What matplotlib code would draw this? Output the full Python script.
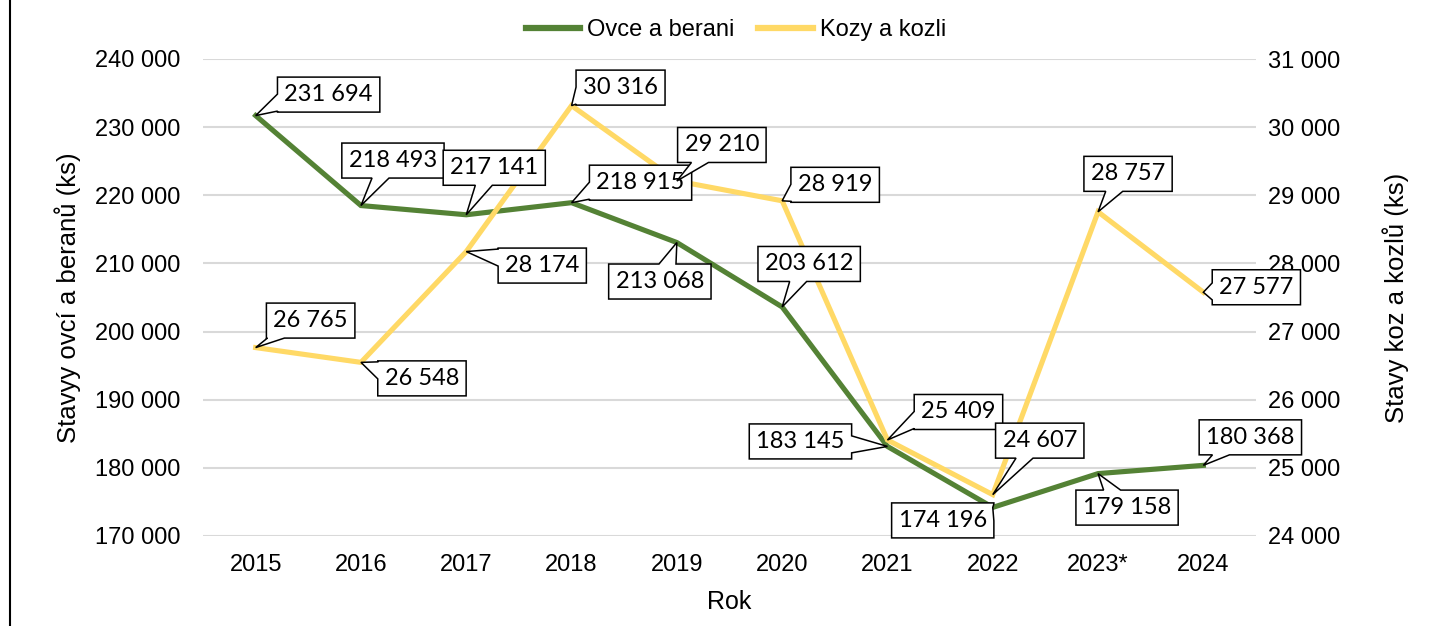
import matplotlib
matplotlib.use("Agg")
import numpy as np
import matplotlib.pyplot as plt
from matplotlib.ticker import FuncFormatter, MultipleLocator
from matplotlib.lines import Line2D
from matplotlib.patches import Polygon
from matplotlib.transforms import IdentityTransform

YEARS = ["2015", "2016", "2017", "2018", "2019", "2020", "2021", "2022", "2023*", "2024"]
SHEEP = [231694, 218493, 217141, 218915, 213068, 203612, 183145, 174196, 179158, 180368]
GOATS = [26765, 26548, 28174, 30316, 29210, 28919, 25409, 24607, 28757, 27577]

# callout box offsets from the data point, in pixels (x right, y up)
SHEEP_OFFSETS = [(73, 21), (32, 45), (28, 47), (69, 20), (-17, -39), (27, 43), (-87, 5), (-50, -13), (29, -34), (47, 28)]
GOAT_OFFSETS = [(55, 27), (61, -16), (76, -14), (49, 18), (45, 36), (53, 16), (71, 28), (47, 54), (30, 38), (53, 5)]

GREEN = "#548235"
YELLOW = "#FFD966"
GRID = "#D9D9D9"
TICK_FONT = "Liberation Sans"
LABEL_FONT = "Lato"


def fmt_space(v, _pos=None):
    return f"{int(round(v)):,}".replace(",", " ")


fig = plt.figure(figsize=(14.35, 6.26), dpi=100)
ax = fig.add_axes([203 / 1435, 1 - 536 / 626, (1256 - 203) / 1435, (536 - 59) / 626])
ax2 = ax.twinx()

x = list(range(len(YEARS)))
ax.plot(x, SHEEP, color=GREEN, lw=3.7, solid_joinstyle="miter", zorder=3)
ax2.plot(x, GOATS, color=YELLOW, lw=3.7, solid_joinstyle="miter", zorder=3)

ax.set_xlim(-0.5, len(YEARS) - 0.5)
ax.set_ylim(170000, 240000)
ax2.set_ylim(24000, 31000)
ax.yaxis.set_major_locator(MultipleLocator(10000))
ax2.yaxis.set_major_locator(MultipleLocator(1000))
ax.yaxis.set_major_formatter(FuncFormatter(fmt_space))
ax2.yaxis.set_major_formatter(FuncFormatter(fmt_space))
ax.set_xticks(x)
ax.set_xticklabels(YEARS)

ax.grid(axis="y", color=GRID, lw=1.5, zorder=0)
ax.set_axisbelow(True)
for a in (ax, ax2):
    for s in a.spines.values():
        s.set_visible(False)
    a.tick_params(length=0, labelsize=17, colors="black")
    for lbl in a.get_xticklabels() + a.get_yticklabels():
        lbl.set_fontfamily(TICK_FONT)
ax.tick_params(axis="y", pad=16)
ax2.tick_params(axis="y", pad=9)
ax.tick_params(axis="x", pad=13)

ax.set_xlabel("Rok", fontsize=18, family=TICK_FONT, labelpad=10)
ax.set_ylabel("Stavyy ovcí a beranů (ks)", fontsize=18.5, family=TICK_FONT, labelpad=10)
ax2.set_ylabel("Stavy koz a kozlů (ks)", fontsize=18.5, family=TICK_FONT, labelpad=30)

# all callouts live on ax2 so they sit above both lines
labels = []
for trans, values, offsets in ((ax.transData, SHEEP, SHEEP_OFFSETS), (ax2.transData, GOATS, GOAT_OFFSETS)):
    for xi, v, (dx, dy) in zip(x, values, offsets):
        t = ax2.annotate(fmt_space(v), xy=(xi, v), xycoords=trans, xytext=(dx, dy), textcoords="offset pixels",
                         ha="center", va="center", fontsize=17, family=LABEL_FONT, zorder=6,
                         annotation_clip=False)
        labels.append((t, trans.transform((xi, v))))

fig.canvas.draw()
renderer = fig.canvas.get_renderer()
PAD_X, PAD_Y, BASE = 7, 7, 17

for t, (px, py) in labels:
    bb = t.get_window_extent(renderer)
    x0, x1 = bb.x0 - PAD_X, bb.x1 + PAD_X
    y0, y1 = bb.y0 - PAD_Y, bb.y1 + PAD_Y
    cx, cy = (x0 + x1) / 2, (y0 + y1) / 2
    dx, dy = px - cx, py - cy
    # where does the ray centre -> point leave the box
    tx = (x1 - cx) / abs(dx) if dx else np.inf
    ty = (y1 - cy) / abs(dy) if dy else np.inf
    if tx < ty:
        ey = cy + dy * tx
        b_lo = min(max(ey - BASE / 2, y0 + 1), y1 - 1 - BASE)
        b_hi = b_lo + BASE
        if dx > 0:
            pts = [(x0, y0), (x1, y0), (x1, b_lo), (px, py), (x1, b_hi), (x1, y1), (x0, y1)]
        else:
            pts = [(x0, y0), (x1, y0), (x1, y1), (x0, y1), (x0, b_hi), (px, py), (x0, b_lo)]
    else:
        ex = cx + dx * ty
        b_lo = min(max(ex - BASE / 2, x0 + 1), x1 - 1 - BASE)
        b_hi = b_lo + BASE
        if dy > 0:
            pts = [(x0, y0), (x1, y0), (x1, y1), (b_hi, y1), (px, py), (b_lo, y1), (x0, y1)]
        else:
            pts = [(x0, y0), (b_lo, y0), (px, py), (b_hi, y0), (x1, y0), (x1, y1), (x0, y1)]
    ax2.add_patch(Polygon(pts, closed=True, fc="white", ec="black", lw=1.1, clip_on=False,
                          transform=IdentityTransform(), zorder=5, joinstyle="miter"))

handles = [Line2D([], [], color=GREEN, lw=4.5), Line2D([], [], color=YELLOW, lw=4.5)]
fig.legend(handles, ["Ovce a berani", "Kozy a kozli"], loc="center", bbox_to_anchor=(736 / 1435, 1 - 30 / 626),
           ncol=2, frameon=False, prop={"family": TICK_FONT, "size": 17},
           handlelength=2.3, handletextpad=0.3, columnspacing=1.0)

fig.add_artist(Line2D([10 / 1435, 10 / 1435], [0, 1], color="black", lw=1.5, transform=fig.transFigure))

fig.savefig("out.png", dpi=100)
